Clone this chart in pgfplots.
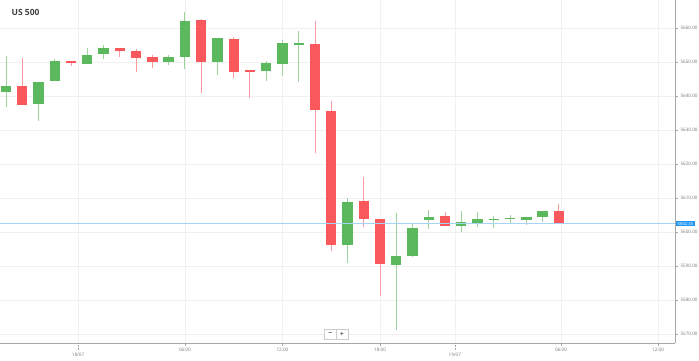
\documentclass[border=0pt]{standalone}
\usepackage{pgfplots}
\pgfplotsset{compat=1.18}
\usepackage{pgfplotstable}
\usepackage{fontspec}
\setmainfont{Open Sans}
\definecolor{cgreen}{RGB}{92,184,92}
\definecolor{cred}{RGB}{249,88,92}
\definecolor{cblue}{RGB}{33,150,243}
\definecolor{clblue}{RGB}{165,212,245}
\definecolor{ctick}{RGB}{120,120,120}
\pgfplotstableread{
x o h l c
0 5641.2 5651.8 5636.9 5642.9
2 5637.6 5644.0 5632.6 5644.0
3 5644.4 5650.8 5644.4 5650.4
5 5649.3 5654.2 5649.3 5652.2
6 5652.4 5655.1 5650.8 5654.2
10 5650.0 5652.0 5649.0 5651.4
11 5651.5 5664.6 5647.9 5662.2
13 5650.0 5657.0 5646.2 5657.0
16 5647.3 5650.2 5644.4 5649.6
17 5649.3 5656.5 5646.0 5655.5
18 5655.1 5659.0 5644.1 5655.5
21 5596.2 5609.9 5591.0 5608.9
24 5590.3 5605.5 5571.2 5593.0
25 5592.9 5602.7 5592.6 5601.3
26 5603.6 5606.5 5600.9 5604.4
28 5601.9 5606.1 5600.0 5602.9
29 5602.6 5605.8 5601.6 5603.8
30 5603.5 5604.7 5601.2 5603.9
31 5603.8 5605.1 5602.6 5604.2
32 5603.6 5604.4 5602.1 5604.4
33 5604.4 5606.3 5602.8 5606.3
}\greentab
\pgfplotstableread{
x o h l c
1 5642.9 5651.2 5637.4 5637.4
4 5650.3 5650.3 5648.8 5649.6
7 5654.2 5654.2 5651.5 5653.3
8 5653.3 5653.7 5647.1 5651.1
9 5651.4 5652.0 5648.2 5650.1
12 5662.4 5662.6 5640.9 5649.9
14 5656.8 5657.3 5645.4 5647.0
15 5647.6 5647.6 5639.3 5647.2
19 5655.4 5662.1 5623.3 5635.9
20 5635.6 5638.5 5594.4 5596.2
22 5609.2 5616.1 5601.4 5603.7
23 5603.9 5603.9 5581.3 5590.6
27 5604.6 5606.0 5601.8 5601.8
34 5606.1 5608.1 5602.3 5602.3
}\redtab
\begin{document}
\begin{tikzpicture}
\useasboundingbox (0,0) rectangle (699pt,361pt);
\begin{axis}[
  at={(0pt,18pt)}, anchor=south west,
  scale only axis, width=675pt, height=343pt,
  xmin=-0.369, xmax=41.14, ymin=5567.35, ymax=5668.24,
  axis x line*=bottom, axis y line*=right,
  axis line style={draw=gray!70, line width=0.8pt},
  clip=false,
  ytick={5570,5580,...,5660},
  yticklabel style={font=\fontsize{4.6}{5}\selectfont, text=ctick, xshift=-1pt},
  /pgf/number format/.cd, fixed, fixed zerofill, precision=2, 1000 sep={}, assume math mode=true,
  /pgfplots/.cd,
  xtick={11,17,23,34.13,40.1},
  xticklabels={06:00,12:00,18:00,06:00,12:00},
  xticklabel style={font=\fontsize{4.6}{5}\selectfont, text=ctick, yshift=1pt},
  extra x ticks={4.43,27.6},
  extra x tick labels={18/07,19/07},
  extra x tick style={major tick length=7pt, tick style={densely dotted, gray!70}, xticklabel style={yshift=-1pt}},
  tick align=outside, major tick length=3pt,
  tick style={gray!70, line width=0.5pt},
  grid=major, major grid style={draw=gray!12, line width=0.6pt},
  candle/.style={draw=none, mark=none, forget plot,
    error bars/y dir=plus, error bars/y explicit, error bars/error mark=none},
]
% wicks
\addplot[candle, error bars/error bar style={draw=cgreen!60, line width=0.9pt, solid}]
  table[x=x, y=l, y error expr=\thisrow{h}-\thisrow{l}] {\greentab};
\addplot[candle, error bars/error bar style={draw=cred!60, line width=0.9pt, solid}]
  table[x=x, y=l, y error expr=\thisrow{h}-\thisrow{l}] {\redtab};
% bodies
\addplot[candle, error bars/error bar style={draw=cgreen, line width=10.3pt, solid}]
  table[x=x, y=o, y error expr=\thisrow{c}-\thisrow{o}] {\greentab};
\addplot[candle, error bars/error bar style={draw=cred, line width=10.3pt, solid}]
  table[x=x, y=c, y error expr=\thisrow{o}-\thisrow{c}] {\redtab};
% current price line
\addplot[clblue, line width=1pt, forget plot] coordinates {(-0.369,5602.4) (41.14,5602.4)};
\node[anchor=west, fill=cblue, text=white, inner xsep=1.5pt, inner ysep=1pt, font=\fontsize{4.2}{4.5}\selectfont, xshift=1pt]
  at (axis cs:41.14,5602.4) {5602.35};
\node[anchor=west, font=\bfseries\fontsize{8.5}{10}\selectfont, text=black!75] at (rel axis cs:0.012,0.965) {US 500};
\node[draw=gray!40, fill=white, inner sep=0pt, minimum width=11.5pt, minimum height=10pt, font=\fontsize{7}{8}\selectfont\bfseries, text=gray!80!black] at (axis cs:19.95,5569.8) {\raisebox{0.5pt}{−}};
\node[draw=gray!40, fill=white, inner sep=0pt, minimum width=11.5pt, minimum height=10pt, font=\fontsize{7}{8}\selectfont\bfseries, text=gray!80!black] at (axis cs:20.66,5569.8) {+};
\end{axis}
\end{tikzpicture}
\end{document}
